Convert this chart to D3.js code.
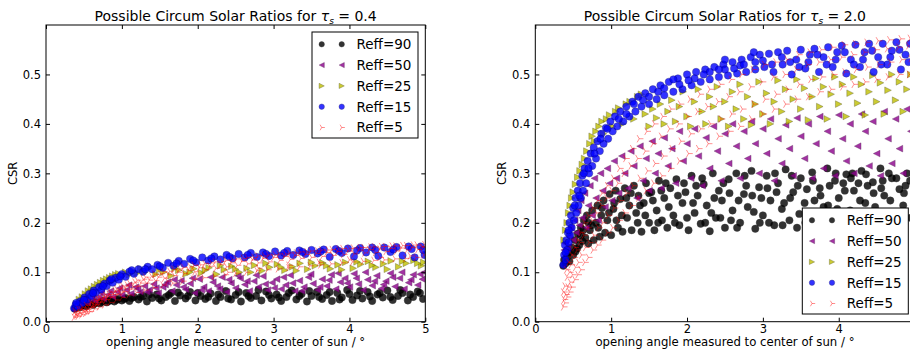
<!DOCTYPE html>
<html>
<head>
<meta charset="utf-8">
<script src="https://cdn.jsdelivr.net/npm/d3@7"></script>
<style>
  body { margin: 0; background: #fff; overflow: hidden; }
  svg { display: block; font-family: "DejaVu Sans", sans-serif; }
</style>
</head>
<body>
<svg width="910" height="349"></svg>
<script>
// series labels and tick values
const seriesNames = ["Reff=90", "Reff=50", "Reff=25", "Reff=15", "Reff=5"];
const xTicks = [0, 1, 2, 3, 4, 5];
const yTicks = [0, 0.1, 0.2, 0.3, 0.4, 0.5];

// tau_s = 0.4  (x = opening angle, y = CSR)
const tau04_r90 = [[0.38,.026],[0.41,.031],[0.45,.029],[0.49,.034],[0.53,.031],[0.57,.036],[0.62,.034],[0.66,.039],[0.71,.037],[0.75,.042],[0.8,.039],[0.85,.044],[0.9,.041],[0.95,.046],[1.0,.043],[1.05,.048],[1.1,.042],[1.16,.05],[1.22,.045],[1.28,.052],[1.33,.041],[1.4,.048],[1.46,.055],[1.52,.043],[1.58,.05],[1.65,.058],[1.7,.042],[1.77,.053],[1.84,.047],[1.9,.06],[1.97,.043],[2.04,.052],[2.1,.046],[2.17,.057],[2.24,.042],[2.3,.05],[2.37,.062],[2.44,.045],[2.5,.054],[2.57,.041],[2.64,.058],[2.7,.048],[2.77,.052],[2.84,.043],[2.9,.061],[2.97,.047],[3.04,.055],[3.1,.042],[3.17,.05],[3.24,.063],[3.3,.045],[3.37,.056],[3.44,.041],[3.5,.052],[3.57,.06],[3.64,.046],[3.7,.054],[3.77,.042],[3.84,.058],[3.9,.049],[3.97,.064],[4.04,.044],[4.1,.053],[4.17,.047],[4.24,.06],[4.3,.042],[4.37,.055],[4.44,.049],[4.5,.063],[4.57,.044],[4.64,.052],[4.7,.058],[4.77,.043],[4.84,.05],[4.9,.061],[4.97,.046],
  [0.4,.03],[0.47,.033],[0.55,.034],[0.64,.037],[0.73,.04],[0.83,.042],[0.93,.044],[1.03,.046],[1.13,.048],[1.25,.05],[1.36,.055],[1.49,.047],[1.62,.054],[1.74,.059],[1.87,.052],[2.0,.058],[2.14,.05],[2.27,.055],[2.4,.047],[2.54,.06],[2.67,.052],[2.8,.064],[2.94,.054],[3.07,.049],[3.2,.058],[3.34,.052],[3.47,.062],[3.6,.05],[3.74,.06],[3.87,.045],[4.0,.056],[4.14,.062],[4.27,.051],[4.4,.058],[4.54,.05],[4.67,.064],[4.8,.055],[4.93,.058]];
const tau04_r50 = [[0.4,.032],[0.45,.036],[0.5,.04],[0.55,.038],[0.6,.045],[0.65,.042],[0.7,.05],[0.76,.046],[0.82,.055],[0.88,.05],[0.94,.06],[1.0,.054],[1.06,.064],[1.12,.057],[1.18,.07],[1.24,.06],[1.3,.072],[1.36,.064],[1.42,.076],[1.48,.058],[1.54,.07],[1.6,.08],[1.66,.062],[1.72,.074],[1.78,.083],[1.84,.065],[1.9,.077],[1.96,.058],[2.02,.086],[2.08,.07],[2.14,.062],[2.2,.08],[2.26,.072],[2.32,.09],[2.38,.06],[2.44,.078],[2.5,.068],[2.56,.088],[2.62,.075],[2.68,.062],[2.74,.082],[2.8,.07],[2.86,.092],[2.92,.064],[2.98,.079],[3.04,.086],[3.1,.066],[3.16,.074],[3.22,.094],[3.28,.062],[3.34,.083],[3.4,.07],[3.46,.09],[3.52,.077],[3.58,.064],[3.64,.086],[3.7,.072],[3.76,.095],[3.82,.066],[3.88,.08],[3.94,.088],[4.0,.07],[4.06,.097],[4.12,.076],[4.18,.064],[4.24,.085],[4.3,.073],[4.36,.093],[4.42,.067],[4.48,.082],[4.54,.098],[4.6,.071],[4.66,.088],[4.72,.066],[4.78,.079],[4.84,.095],[4.9,.074],[4.96,.086],[4.99,.1],
  [0.42,.04],[0.52,.046],[0.62,.052],[0.73,.058],[0.85,.062],[0.97,.068],[1.09,.074],[1.21,.066],[1.33,.06],[1.45,.068],[1.57,.075],[1.69,.085],[1.81,.07],[1.93,.088],[2.05,.064],[2.17,.09],[2.29,.066],[2.41,.085],[2.53,.093],[2.65,.082],[2.77,.094],[2.89,.076],[3.01,.068],[3.13,.09],[3.25,.078],[3.37,.062],[3.49,.096],[3.61,.07],[3.73,.084],[3.85,.098],[3.97,.078],[4.09,.088],[4.21,.1],[4.33,.082],[4.45,.075],[4.57,.09],[4.69,.1],[4.81,.085],[4.93,.096]];
const tau04_r25 = [[0.4,.036],[0.44,.045],[0.48,.05],[0.52,.056],[0.56,.062],[0.6,.066],[0.64,.071],[0.68,.075],[0.72,.079],[0.76,.083],[0.8,.086],[0.84,.089],[0.88,.092],[0.92,.095],[0.96,.097],[1.05,.1],[1.15,.103],[1.25,.107],[1.35,.108],[1.45,.096],[1.55,.1],[1.65,.093],[1.75,.104],[1.85,.097],[1.95,.107],[2.05,.099],[2.15,.109],[2.25,.096],[2.35,.105],[2.45,.112],[2.55,.1],[2.65,.108],[2.75,.114],[2.85,.103],[2.95,.11],[3.05,.116],[3.15,.104],[3.25,.111],[3.35,.118],[3.45,.106],[3.55,.113],[3.65,.119],[3.75,.107],[3.85,.115],[3.95,.12],[4.05,.108],[4.15,.116],[4.25,.122],[4.35,.11],[4.45,.117],[4.55,.123],[4.65,.111],[4.75,.118],[4.85,.124],[4.95,.113],[4.98,.12],
  [0.5,.046],[0.62,.06],[0.74,.072],[0.86,.082],[0.98,.09],[1.1,.095],[1.2,.098],[1.3,.1],[1.5,.105],[1.7,.108],[1.9,.1],[2.1,.104],[2.3,.113],[2.5,.106],[2.7,.1],[2.9,.118],[3.1,.11],[3.3,.103],[3.5,.12],[3.7,.113],[3.9,.105],[4.1,.121],[4.3,.114],[4.5,.106],[4.7,.122],[4.9,.118]];
const tau04_r15 = [[0.37,.027],[0.39,.034],[0.42,.031],[0.45,.041],[0.48,.038],[0.51,.049],[0.54,.045],[0.57,.056],[0.6,.052],[0.63,.063],[0.66,.059],[0.7,.07],[0.73,.065],[0.77,.077],[0.8,.072],[0.84,.083],[0.88,.079],[0.92,.089],[0.96,.085],[1.0,.096],[1.05,.091],[1.1,.101],[1.16,.097],[1.22,.106],[1.28,.101],[1.34,.111],[1.4,.106],[1.47,.115],[1.54,.109],[1.61,.119],[1.68,.113],[1.75,.123],[1.82,.117],[1.9,.127],[1.98,.12],[2.06,.13],[2.14,.124],[2.22,.132],[2.3,.126],[2.38,.135],[2.46,.128],[2.54,.137],[2.62,.13],[2.7,.139],[2.78,.131],[2.86,.14],[2.94,.133],[3.02,.142],[3.1,.134],[3.18,.143],[3.26,.135],[3.34,.144],[3.42,.137],[3.5,.145],[3.58,.138],[3.66,.146],[3.74,.131],[3.82,.147],[3.9,.139],[3.98,.148],[4.06,.132],[4.14,.149],[4.22,.14],[4.3,.15],[4.38,.133],[4.46,.15],[4.54,.141],[4.62,.151],[4.7,.134],[4.78,.152],[4.86,.13],[4.94,.152],[4.99,.135],
  [0.4,.038],[0.5,.044],[0.62,.058],[0.75,.072],[0.86,.086],[0.98,.092],[1.13,.104],[1.31,.106],[1.5,.112],[1.72,.118],[1.94,.124],[2.18,.128],[2.42,.131],[2.66,.135],[2.9,.137],[3.14,.139],[3.38,.141],[3.62,.142],[3.86,.143],[4.1,.144],[4.34,.145],[4.58,.146],[4.82,.147],[4.97,.145]];
const tau04_r5 = [[0.37,.009],[0.39,.015],[0.38,.021],[0.42,.011],[0.44,.018],[0.43,.025],[0.47,.014],[0.49,.022],[0.48,.029],[0.52,.017],[0.54,.025],[0.53,.033],[0.58,.021],[0.6,.03],[0.59,.038],[0.64,.026],[0.66,.035],[0.65,.043],[0.7,.03],[0.72,.04],[0.71,.048],[0.77,.034],[0.79,.045],[0.78,.054],[0.84,.039],[0.86,.05],[0.85,.06],[0.92,.044],[0.94,.056],[0.93,.066],[1.0,.049],[1.02,.061],[1.01,.072],[1.09,.054],[1.11,.066],[1.1,.078],[1.19,.059],[1.21,.072],[1.2,.084],[1.3,.064],[1.32,.078],[1.31,.09],[1.42,.069],[1.44,.083],[1.43,.096],[1.54,.074],[1.56,.088],[1.55,.101],[1.67,.078],[1.69,.093],[1.68,.106],[1.8,.082],[1.82,.097],[1.81,.11],[1.94,.086],[1.96,.101],[1.95,.114],[2.08,.089],[2.1,.105],[2.09,.118],[2.22,.092],[2.24,.108],[2.23,.121],[2.36,.095],[2.38,.111],[2.37,.124],[2.5,.098],[2.52,.114],[2.51,.127],[2.64,.1],[2.66,.117],[2.65,.13],[2.78,.103],[2.8,.119],[2.79,.133],[2.92,.105],[2.94,.121],[2.93,.135],[3.06,.107],[3.08,.124],[3.07,.137],[3.2,.109],[3.22,.126],[3.21,.139],[3.34,.111],[3.36,.128],[3.35,.141],[3.48,.113],[3.5,.13],[3.49,.143],[3.62,.115],[3.64,.132],[3.63,.145],[3.76,.117],[3.78,.134],[3.77,.146],[3.9,.119],[3.92,.136],[3.91,.148],[4.04,.121],[4.06,.137],[4.05,.149],[4.18,.122],[4.2,.139],[4.19,.15],[4.32,.124],[4.34,.14],[4.33,.151],[4.46,.125],[4.48,.142],[4.47,.152],[4.6,.127],[4.62,.143],[4.61,.153],[4.74,.128],[4.76,.145],[4.75,.154],[4.88,.13],[4.9,.146],[4.89,.155],[4.98,.135],[4.97,.15],
  [0.41,.017],[0.5,.02],[0.56,.029],[0.62,.035],[0.68,.039],[0.74,.044],[0.81,.05],[0.89,.055],[0.97,.06],[1.05,.066],[1.15,.071],[1.25,.078],[1.36,.084],[1.48,.09],[1.61,.095],[1.74,.1],[1.88,.104],[2.02,.109],[2.16,.112],[2.3,.116],[2.44,.119],[2.58,.122],[2.72,.125],[2.86,.128],[3.0,.13],[3.14,.132],[3.28,.134],[3.42,.136],[3.56,.138],[3.7,.14],[3.84,.142],[3.98,.143],[4.12,.145],[4.26,.146],[4.4,.147],[4.54,.148],[4.68,.149],[4.82,.15],[4.95,.152],
  [0.4,.012],[0.46,.024],[0.55,.02],[0.63,.032],[0.69,.045],[0.76,.05],[0.83,.055],[0.91,.062],[0.99,.068],[1.07,.074],[1.17,.08],[1.28,.086],[1.39,.092],[1.51,.097],[1.63,.102],[1.76,.107],[1.9,.111],[2.04,.115],[2.18,.119],[2.32,.122],[2.46,.125],[2.6,.128],[2.74,.13],[2.88,.133],[3.02,.135],[3.16,.137],[3.3,.139],[3.44,.141],[3.58,.143],[3.72,.145],[3.86,.147],[4.0,.148],[4.14,.15],[4.28,.151],[4.42,.152],[4.56,.153],[4.7,.154],[4.84,.155],[4.99,.156],
  [1.6,.082],[2.0,.092],[2.4,.1],[2.8,.108],[3.2,.114],[3.6,.12],[4.0,.125],[4.4,.13],[4.8,.133]];

// tau_s = 2.0
const tau20_r90 = [[0.37,.113],[0.38,.125],[0.4,.118],[0.42,.131],[0.44,.14],[0.45,.122],[0.48,.15],[0.5,.135],[0.52,.165],[0.53,.142],[0.56,.178],[0.58,.155],[0.6,.19],[0.62,.163],[0.64,.205],[0.66,.17],[0.68,.215],[0.7,.158],[0.72,.185],[0.75,.225],[0.77,.165],[0.8,.2],[0.82,.235],[0.85,.172],[0.87,.215],[0.9,.245],[0.92,.18],[0.95,.205],[0.98,.258],[1.0,.175],[1.03,.228],[1.06,.265],[1.09,.19],[1.12,.248],[1.15,.182],[1.18,.27],[1.21,.21],[1.24,.235],[1.27,.185],[1.3,.275],[1.33,.22],[1.36,.255],[1.4,.182],[1.43,.24],[1.46,.28],[1.5,.2],[1.53,.262],[1.57,.185],[1.6,.225],[1.63,.285],[1.67,.205],[1.7,.25],[1.74,.19],[1.78,.27],[1.82,.215],[1.86,.288],[1.9,.195],[1.94,.24],[1.98,.262],[2.02,.185],[2.06,.295],[2.1,.22],[2.14,.255],[2.18,.198],[2.22,.278],[2.26,.235],[2.3,.183],[2.34,.3],[2.38,.21],[2.42,.265],[2.46,.245],[2.5,.19],[2.55,.288],[2.6,.225],[2.65,.3],[2.7,.2],[2.75,.258],[2.8,.232],[2.85,.305],[2.9,.188],[2.95,.272],[3.0,.215],[3.05,.295],[3.1,.245],[3.15,.195],[3.2,.28],[3.25,.228],[3.3,.308],[3.35,.205],[3.4,.262],[3.45,.19],[3.5,.29],[3.55,.24],[3.6,.215],[3.65,.302],[3.7,.198],[3.75,.27],[3.8,.232],[3.85,.31],[3.9,.205],[3.95,.285],[4.0,.25],[4.05,.195],[4.1,.298],[4.15,.225],[4.2,.265],[4.25,.2],[4.3,.305],[4.35,.24],[4.4,.212],[4.45,.282],[4.5,.198],[4.55,.31],[4.6,.255],[4.65,.22],[4.7,.29],[4.75,.205],[4.8,.268],[4.85,.235],[4.9,.3],[4.95,.21],
  [0.55,.148],[0.63,.185],[0.74,.195],[0.83,.19],[0.97,.22],[1.07,.205],[1.2,.25],[1.35,.2],[1.45,.215],[1.55,.245],[1.66,.265],[1.76,.232],[1.88,.255],[2.0,.21],[2.12,.275],[2.24,.2],[2.36,.25],[2.48,.28],[2.58,.205],[2.68,.245],[2.78,.275],[2.88,.222],[2.98,.25],[3.08,.2],[3.18,.262],[3.28,.24],[3.38,.295],[3.48,.218],[3.58,.268],[3.68,.245],[3.78,.2],[3.88,.275],[3.98,.228],[4.08,.265],[4.18,.3],[4.28,.245],[4.38,.275],[4.48,.232],[4.58,.285],[4.68,.245],[4.78,.215],[4.88,.275],
  [0.6,.175],[0.7,.2],[0.88,.23],[1.04,.24],[1.14,.215],[1.26,.26],[1.38,.235],[1.5,.26],[1.62,.2],[1.72,.28],[1.84,.2],[1.96,.28],[2.08,.24],[2.2,.29],[2.32,.22],[2.44,.21],[2.56,.26],[2.66,.19],[2.76,.295],[2.86,.255],[2.96,.2],[3.06,.27],[3.16,.3],[3.26,.195],[3.36,.25],[3.46,.275],[3.56,.2],[3.66,.285],[3.76,.255],[3.86,.235],[3.96,.3],[4.06,.28],[4.16,.29],[4.26,.28],[4.36,.298],[4.46,.26],[4.56,.27],[4.66,.3],[4.76,.29],[4.86,.26],[4.94,.285]];
const tau20_r50 = [[0.38,.145],[0.4,.158],[0.43,.15],[0.45,.172],[0.47,.19],[0.5,.165],[0.52,.205],[0.54,.18],[0.56,.225],[0.58,.195],[0.6,.245],[0.62,.21],[0.65,.26],[0.67,.19],[0.7,.235],[0.72,.275],[0.75,.215],[0.78,.29],[0.8,.25],[0.83,.205],[0.86,.3],[0.89,.265],[0.92,.232],[0.95,.31],[0.98,.28],[1.01,.245],[1.04,.325],[1.07,.29],[1.1,.26],[1.14,.335],[1.18,.3],[1.22,.27],[1.26,.345],[1.3,.315],[1.34,.25],[1.38,.355],[1.42,.285],[1.46,.33],[1.5,.265],[1.54,.365],[1.58,.3],[1.62,.34],[1.66,.27],[1.7,.372],[1.75,.315],[1.8,.35],[1.85,.28],[1.9,.385],[1.95,.325],[2.0,.36],[2.05,.29],[2.1,.39],[2.15,.335],[2.2,.275],[2.25,.372],[2.3,.31],[2.35,.395],[2.4,.345],[2.45,.285],[2.5,.38],[2.55,.32],[2.6,.4],[2.65,.355],[2.7,.29],[2.75,.385],[2.8,.33],[2.85,.405],[2.9,.36],[2.95,.3],[3.0,.39],[3.05,.34],[3.1,.41],[3.15,.285],[3.2,.37],[3.25,.32],[3.3,.398],[3.35,.35],[3.4,.295],[3.45,.412],[3.5,.375],[3.55,.33],[3.6,.4],[3.65,.29],[3.7,.36],[3.75,.415],[3.8,.31],[3.85,.385],[3.9,.345],[3.95,.295],[4.0,.418],[4.05,.37],[4.1,.325],[4.15,.4],[4.2,.3],[4.25,.355],[4.3,.42],[4.35,.385],[4.4,.315],[4.45,.405],[4.5,.34],[4.55,.295],[4.6,.425],[4.65,.37],[4.7,.32],[4.75,.41],[4.8,.35],[4.85,.3],[4.9,.43],[4.95,.385]];
const tau20_r25 = [[0.38,.165],[0.4,.185],[0.42,.2],[0.44,.22],[0.46,.235],[0.48,.25],[0.5,.262],[0.53,.278],[0.56,.292],[0.59,.305],[0.62,.318],[0.65,.33],[0.68,.345],[0.72,.36],[0.75,.375],[0.78,.365],[0.8,.385],[0.84,.395],[0.88,.405],[0.9,.38],[0.94,.41],[0.98,.418],[1.02,.395],[1.06,.425],[1.1,.432],[1.15,.4],[1.2,.44],[1.25,.445],[1.3,.41],[1.35,.455],[1.4,.46],[1.45,.42],[1.5,.395],[1.55,.43],[1.6,.412],[1.65,.44],[1.7,.4],[1.75,.425],[1.8,.448],[1.85,.405],[1.9,.435],[1.95,.465],[2.0,.415],[2.05,.395],[2.1,.445],[2.15,.47],[2.2,.425],[2.25,.4],[2.3,.455],[2.35,.435],[2.4,.475],[2.45,.41],[2.5,.445],[2.55,.395],[2.6,.465],[2.65,.43],[2.7,.48],[2.75,.41],[2.8,.455],[2.85,.398],[2.9,.44],[2.95,.485],[3.0,.42],[3.05,.462],[3.1,.4],[3.15,.445],[3.2,.488],[3.25,.425],[3.3,.47],[3.35,.405],[3.4,.45],[3.45,.49],[3.5,.43],[3.55,.472],[3.6,.408],[3.65,.455],[3.7,.492],[3.75,.435],[3.8,.475],[3.85,.41],[3.9,.46],[3.95,.495],[4.0,.44],[4.05,.48],[4.1,.415],[4.15,.462],[4.2,.495],[4.25,.442],[4.3,.48],[4.35,.418],[4.4,.465],[4.45,.498],[4.5,.445],[4.55,.483],[4.6,.42],[4.65,.468],[4.7,.5],[4.75,.448],[4.8,.485],[4.85,.425],[4.9,.47],[4.95,.5]];
const tau20_r15 = [[0.37,.115],[0.38,.135],[0.39,.155],[0.4,.125],[0.41,.165],[0.42,.145],[0.43,.18],[0.44,.16],[0.45,.2],[0.46,.175],[0.47,.215],[0.48,.19],[0.5,.23],[0.51,.205],[0.53,.25],[0.54,.22],[0.56,.265],[0.57,.235],[0.59,.28],[0.6,.25],[0.62,.295],[0.63,.265],[0.65,.31],[0.67,.28],[0.69,.325],[0.71,.3],[0.73,.34],[0.75,.315],[0.77,.352],[0.8,.33],[0.82,.365],[0.85,.345],[0.87,.38],[0.9,.36],[0.93,.392],[0.96,.37],[0.99,.405],[1.02,.385],[1.05,.415],[1.08,.395],[1.12,.425],[1.16,.405],[1.2,.435],[1.24,.415],[1.28,.445],[1.32,.425],[1.36,.455],[1.4,.435],[1.45,.462],[1.5,.44],[1.55,.47],[1.6,.45],[1.65,.478],[1.7,.458],[1.76,.485],[1.82,.465],[1.88,.492],[1.94,.47],[2.0,.5],[2.06,.478],[2.12,.505],[2.18,.485],[2.24,.51],[2.3,.49],[2.36,.515],[2.42,.495],[2.48,.52],[2.54,.498],[2.6,.525],[2.66,.502],[2.72,.53],[2.78,.505],[2.84,.535],[2.9,.51],[2.96,.54],[3.02,.515],[3.08,.542],[3.14,.505],[3.2,.545],[3.26,.52],[3.32,.548],[3.38,.5],[3.44,.53],[3.5,.55],[3.56,.512],[3.62,.54],[3.68,.552],[3.74,.505],[3.8,.535],[3.86,.555],[3.92,.515],[3.98,.545],[4.04,.558],[4.1,.502],[4.16,.53],[4.22,.56],[4.28,.515],[4.34,.545],[4.4,.562],[4.46,.505],[4.52,.535],[4.58,.562],[4.64,.52],[4.7,.548],[4.76,.565],[4.82,.51],[4.88,.54],[4.94,.562],
  [0.4,.14],[0.44,.185],[0.52,.235],[0.58,.255],[0.64,.3],[0.7,.31],[0.78,.34],[0.86,.37],[0.95,.39],[1.1,.41],[1.3,.44],[1.5,.455],[1.7,.472],[1.9,.48],[2.1,.492],[2.3,.505],[2.5,.51],[2.7,.518],[2.9,.525],
  [2.5,.53],[2.62,.512],[2.75,.52],[2.88,.545],[3.0,.528],[3.12,.52],[3.25,.535],[3.36,.525],[3.48,.515],[3.6,.525],[3.72,.54],[3.84,.52],[3.96,.53],[4.08,.545],[4.2,.52],[4.32,.53],[4.44,.548],[4.56,.52],[4.68,.535],[4.8,.55],[4.92,.525],[1.2,.42],[1.42,.448],[1.62,.465],[1.82,.49],[2.02,.488],[2.22,.5],[2.42,.51]];
const tau20_r5 = [[0.37,.03],[0.38,.045],[0.37,.06],[0.39,.038],[0.4,.055],[0.39,.072],[0.42,.05],[0.43,.07],[0.42,.09],[0.41,.105],[0.45,.06],[0.46,.08],[0.45,.1],[0.44,.12],[0.48,.07],[0.49,.095],[0.47,.115],[0.48,.135],[0.52,.085],[0.53,.11],[0.51,.13],[0.52,.15],[0.56,.095],[0.57,.12],[0.55,.145],[0.56,.165],[0.6,.105],[0.61,.135],[0.59,.16],[0.6,.18],[0.65,.12],[0.66,.15],[0.64,.175],[0.65,.2],[0.7,.13],[0.71,.16],[0.69,.19],[0.7,.215],[0.76,.145],[0.77,.175],[0.75,.205],[0.76,.23],[0.82,.155],[0.83,.19],[0.81,.22],[0.82,.245],[0.88,.165],[0.89,.2],[0.87,.235],[0.88,.26],[0.95,.18],[0.96,.215],[0.94,.25],[0.95,.275],[1.02,.19],[1.04,.23],[1.01,.265],[1.03,.29],[1.1,.205],[1.12,.245],[1.09,.28],[1.11,.31],[1.18,.22],[1.2,.26],[1.17,.3],[1.19,.33],[1.27,.235],[1.29,.275],[1.26,.315],[1.28,.35],[1.36,.25],[1.38,.29],[1.35,.33],[1.37,.37],[1.46,.265],[1.48,.305],[1.45,.345],[1.47,.385],[1.56,.28],[1.58,.32],[1.55,.36],[1.57,.4],[1.67,.295],[1.69,.335],[1.66,.375],[1.68,.415],[1.78,.31],[1.8,.35],[1.77,.39],[1.79,.43],[1.9,.325],[1.92,.365],[1.89,.4],[1.91,.44],[2.02,.34],[2.05,.38],[2.01,.415],[2.04,.45],[2.15,.35],[2.18,.39],[2.14,.425],[2.17,.46],[2.28,.36],[2.31,.4],[2.27,.435],[2.3,.47],[2.42,.375],[2.45,.41],[2.41,.445],[2.44,.48],[2.56,.385],[2.59,.42],[2.55,.455],[2.58,.49],[2.7,.395],[2.73,.43],[2.69,.465],[2.72,.5],[2.85,.41],[2.88,.44],[2.84,.475],[2.87,.51],[3.0,.42],[3.03,.45],[2.99,.485],[3.02,.52],[3.15,.43],[3.18,.46],[3.14,.495],[3.17,.525],[3.3,.44],[3.33,.47],[3.29,.5],[3.32,.53],[3.45,.45],[3.48,.48],[3.44,.51],[3.47,.54],[3.6,.455],[3.63,.49],[3.59,.52],[3.62,.545],[3.75,.465],[3.78,.495],[3.74,.525],[3.77,.55],[3.9,.47],[3.93,.5],[3.89,.53],[3.92,.555],[4.05,.475],[4.08,.505],[4.04,.535],[4.07,.56],[4.2,.48],[4.23,.51],[4.19,.54],[4.22,.562],[4.35,.485],[4.38,.515],[4.34,.545],[4.37,.565],[4.5,.49],[4.53,.52],[4.49,.55],[4.52,.568],[4.65,.495],[4.68,.525],[4.64,.552],[4.67,.57],[4.8,.5],[4.83,.53],[4.79,.555],[4.82,.572],[4.93,.5],[4.95,.532],[4.92,.558],[4.94,.573]];

// marker look per series (same order as seriesNames)
const styles = [
  { shape: "o", fill: "#000000", stroke: "#000", opacity: 0.8 },
  { shape: "<", fill: "#8c008c", stroke: "#400040", opacity: 0.8 },
  { shape: ">", fill: "#bfbf00", stroke: "#404000", opacity: 0.8 },
  { shape: "o", fill: "#0000ff", stroke: "#000060", opacity: 0.8 },
  { shape: "4", fill: "none", stroke: "#ff0000", opacity: 0.55 }
];

const panels = [
  { tau: "0.4", left: 46, series: [tau04_r90, tau04_r50, tau04_r25, tau04_r15, tau04_r5], legend: [312, 32] },
  { tau: "2.0", left: 535.3, series: [tau20_r90, tau20_r50, tau20_r25, tau20_r15, tau20_r5], legend: [802.3, 208] }
];

const svg = d3.select("svg");
const pageW = 910;
const plotTop = 25, plotBottom = 321.7, panelW = 379.3;

function markerPath(shape, s) {
  if (shape === "<") return `M${-s},0L${s},${-s}L${s},${s}Z`;
  if (shape === ">") return `M${s},0L${-s},${-s}L${-s},${s}Z`;
  if (shape === "4") return `M0,0L${s},0M0,0L${-s / 2},${-s * 0.866}M0,0L${-s / 2},${s * 0.866}`;
  return d3.symbol(d3.symbolCircle, Math.PI * s * s)();
}

function drawMarkers(g, pts, st, big) {
  const s = st.shape === "o" ? (big ? 3.7 : 2.7) : st.shape === "4" ? (big ? 4.2 : 3.2) : (big ? 3.3 : 2.6);
  g.selectAll(null).data(pts).enter().append("path")
    .attr("transform", (d) => `translate(${d[0]},${d[1]})`)
    .attr("d", markerPath(st.shape, s))
    .attr("fill", st.fill)
    .attr("stroke", st.stroke)
    .attr("stroke-width", st.shape === "4" ? 0.8 : 0.4)
    .attr("opacity", st.opacity);
}

panels.forEach((p, pi) => {
  const x = d3.scaleLinear().domain([0, 5]).range([p.left, p.left + panelW]);
  const y = d3.scaleLinear().domain([0, 0.6]).range([plotBottom, plotTop]);
  const g = svg.append("g");

  g.append("clipPath").attr("id", "clip" + pi).append("rect")
    .attr("x", p.left).attr("y", plotTop).attr("width", panelW).attr("height", plotBottom - plotTop);

  // scatter
  const plot = g.append("g").attr("clip-path", `url(#clip${pi})`);
  p.series.forEach((data, si) => {
    const pts = data.map((d) => [x(d[0]), y(d[1])]);
    drawMarkers(plot.append("g"), pts, styles[si], true);
  });

  // axes with inward ticks on all four sides; the right panel runs off the page
  const shownX = xTicks.filter((v) => x(v) + 4 < pageW);
  const axB = d3.axisBottom(x).tickValues(shownX).tickSize(-4).tickPadding(3).tickFormat(d3.format("d"));
  const axT = d3.axisTop(x).tickValues(xTicks).tickSize(-4).tickFormat("");
  const axL = d3.axisLeft(y).tickValues(yTicks).tickSize(-4).tickPadding(5).tickFormat(d3.format(".1f"));
  const axR = d3.axisRight(y).tickValues(yTicks).tickSize(-4).tickFormat("");
  [[axB, `translate(0,${plotBottom})`], [axT, `translate(0,${plotTop})`], [axL, `translate(${p.left},0)`], [axR, `translate(${p.left + panelW},0)`]]
    .forEach(([ax, tr]) => {
      const a = g.append("g").attr("transform", tr).call(ax);
      a.select(".domain").remove();
      a.selectAll("line").attr("stroke", "#000");
      a.selectAll("text").attr("font-size", 11.5).attr("font-family", "DejaVu Sans").attr("fill", "#000");
    });
  g.append("rect").attr("x", p.left).attr("y", plotTop).attr("width", panelW).attr("height", plotBottom - plotTop)
    .attr("fill", "none").attr("stroke", "#000").attr("stroke-width", 1);

  // title
  const t = g.append("text").attr("x", p.left + panelW / 2).attr("y", 21)
    .attr("text-anchor", "middle").attr("font-size", 14);
  t.append("tspan").text("Possible Circum Solar Ratios for ");
  t.append("tspan").attr("font-style", "italic").text("τ");
  t.append("tspan").attr("font-style", "italic").attr("font-size", 9).attr("dy", 3).text("s");
  t.append("tspan").attr("dy", -3).text(" = " + p.tau);

  g.append("text").attr("x", p.left + panelW / 2).attr("y", 345.5).attr("text-anchor", "middle")
    .attr("font-size", 11.7).text("opening angle measured to center of sun / °");
  g.append("text").attr("transform", `translate(${p.left - 29},${y(0.3)}) rotate(-90)`)
    .attr("text-anchor", "middle").attr("font-size", 11.5).text("CSR");

  // legend
  const [lx, ly] = p.legend;
  const lg = g.append("g");
  lg.append("rect").attr("x", lx).attr("y", ly).attr("width", 106).attr("height", 106)
    .attr("fill", "#fff").attr("stroke", "#000").attr("stroke-width", 1);
  seriesNames.forEach((name, si) => {
    const ry = ly + 12.3 + si * 20.8;
    drawMarkers(lg.append("g"), [[lx + 9.7, ry], [lx + 29.7, ry]], styles[si], false);
    lg.append("text").attr("x", lx + 44.5).attr("y", ry).attr("dy", "0.36em")
      .attr("font-size", 13.5).text(name);
  });
});
</script>
</body>
</html>
